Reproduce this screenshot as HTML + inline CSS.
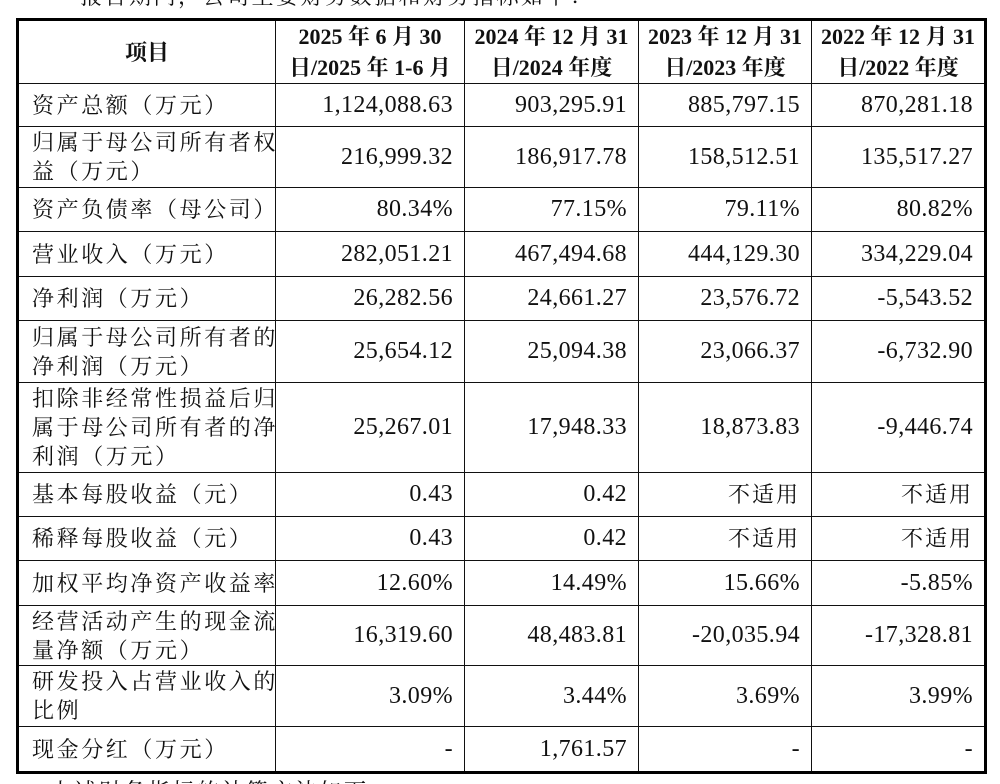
<!DOCTYPE html>
<html><head><meta charset="utf-8"><style>
html,body{margin:0;padding:0;background:#fff;width:1000px;height:784px;overflow:hidden;}
body{position:relative;font-family:"Liberation Serif","Noto Serif CJK SC",serif;color:#111;}
table{position:absolute;left:16px;top:18px;width:968px;border-collapse:collapse;border:3px solid #000;table-layout:fixed;}
td{border:1.5px solid #111;font-size:24px;letter-spacing:0.4px;line-height:29px;padding:0 11px 0 12px;text-align:right;white-space:nowrap;overflow:hidden;}
td.l{text-align:left;font-size:22px;letter-spacing:2.6px;padding:0 0 0 13px;}
td.c{font-size:22px;letter-spacing:2px;}
th{border:1.5px solid #111;font-size:22px;font-weight:bold;line-height:31px;text-align:center;padding:0;white-space:nowrap;overflow:hidden;}
.t{position:absolute;font-size:22px;letter-spacing:2.5px;white-space:nowrap;}
</style></head><body>
<div class="t" style="left:80px;top:-20px;">报告期内，公司主要财务数据和财务指标如下：</div>
<table>
<colgroup><col style="width:258px"><col style="width:189px"><col style="width:174px"><col style="width:173px"><col style="width:174px"></colgroup>
<tr style="height:59px"><th>项目</th><th>2025 年 6 月 30<br>日/2025 年 1-6 月</th><th>2024 年 12 月 31<br>日/2024 年度</th><th>2023 年 12 月 31<br>日/2023 年度</th><th>2022 年 12 月 31<br>日/2022 年度</th></tr>
<tr style="height:43px"><td class="l">资产总额（万元）</td><td>1,124,088.63</td><td>903,295.91</td><td>885,797.15</td><td>870,281.18</td></tr>
<tr style="height:61px"><td class="l">归属于母公司所有者权<br>益（万元）</td><td>216,999.32</td><td>186,917.78</td><td>158,512.51</td><td>135,517.27</td></tr>
<tr style="height:44px"><td class="l">资产负债率（母公司）</td><td>80.34%</td><td>77.15%</td><td>79.11%</td><td>80.82%</td></tr>
<tr style="height:45px"><td class="l">营业收入（万元）</td><td>282,051.21</td><td>467,494.68</td><td>444,129.30</td><td>334,229.04</td></tr>
<tr style="height:44px"><td class="l">净利润（万元）</td><td>26,282.56</td><td>24,661.27</td><td>23,576.72</td><td>-5,543.52</td></tr>
<tr style="height:62px"><td class="l">归属于母公司所有者的<br>净利润（万元）</td><td>25,654.12</td><td>25,094.38</td><td>23,066.37</td><td>-6,732.90</td></tr>
<tr style="height:90px"><td class="l">扣除非经常性损益后归<br>属于母公司所有者的净<br>利润（万元）</td><td>25,267.01</td><td>17,948.33</td><td>18,873.83</td><td>-9,446.74</td></tr>
<tr style="height:44px"><td class="l">基本每股收益（元）</td><td>0.43</td><td>0.42</td><td class="c">不适用</td><td class="c">不适用</td></tr>
<tr style="height:44px"><td class="l">稀释每股收益（元）</td><td>0.43</td><td>0.42</td><td class="c">不适用</td><td class="c">不适用</td></tr>
<tr style="height:45px"><td class="l">加权平均净资产收益率</td><td>12.60%</td><td>14.49%</td><td>15.66%</td><td>-5.85%</td></tr>
<tr style="height:60px"><td class="l">经营活动产生的现金流<br>量净额（万元）</td><td>16,319.60</td><td>48,483.81</td><td>-20,035.94</td><td>-17,328.81</td></tr>
<tr style="height:61px"><td class="l">研发投入占营业收入的<br>比例</td><td>3.09%</td><td>3.44%</td><td>3.69%</td><td>3.99%</td></tr>
<tr style="height:46px"><td class="l">现金分红（万元）</td><td>-</td><td>1,761.57</td><td>-</td><td>-</td></tr>
</table>
<div class="t" style="left:50px;top:775px;">上述财务指标的计算方法如下：</div>
</body></html>
